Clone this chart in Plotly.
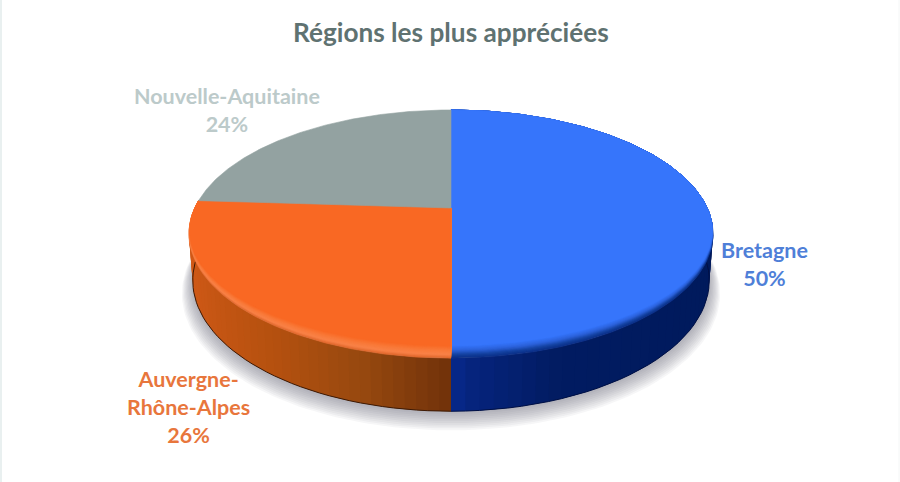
import numpy as np
import plotly.graph_objects as go

# ---- data ----
title_text = "Régions les plus appréciées"
regions = ["Bretagne", "Auvergne-<br>Rhône-Alpes", "Nouvelle-Aquitaine"]
shares = [50, 26, 24]

# ---- styles ----
top_colors = ["#3675fb", "#f96823", "#93a2a1"]
label_colors = ["#4f7fd8", "#e8763c", "#bccaca"]
label_xy = [(764, 264), (188, 407), (227, 110)]
label_size = 21.5

CX = 451
K = 0.21
TOP = dict(y0=208, A=256.2, B=118.6)
LOW = dict(y0=253, A=252.5, B=125.0)


def project(u, v, p):
    d = 1 - K * v
    return CX + p["A"] * u / d, p["y0"] + p["B"] * v / d


def rgb(h):
    return np.array([int(h[i:i + 2], 16) for i in (1, 3, 5)], float)


def ramp(stops, t):
    ts = [s[0] for s in stops]
    c = [np.interp(t, ts, [rgb(s[1])[i] for s in stops]) for i in range(3)]
    return "rgb(%d,%d,%d)" % tuple(c)


fig = go.Figure()


def poly(x, y, color, line=0.5):
    fig.add_trace(go.Scatter(x=x, y=y, mode="lines", fill="toself", fillcolor=color,
                             line=dict(color=color, width=line), hoverinfo="skip",
                             showlegend=False))


# slice angles, clockwise from twelve o'clock, from the values
edges = np.concatenate([[0], np.cumsum(shares)]) / sum(shares) * 2 * np.pi

# soft shadow
th = np.linspace(0, 2 * np.pi, 240)
for i in range(11):
    sx, sy = project(np.sin(th) * (1 + i * 0.004), -np.cos(th) * (1 + i * 0.004), LOW)
    poly(sx, sy + 1 + i, "rgba(95,100,115,0.055)", 0)

wall_ramps = {
    0: [(0, "#0a2d96"), (0.12, "#06247c"), (0.38, "#021c62"), (1, "#001a5c")],
    1: [(-1, "#d25a18"), (-0.6, "#b5510f"), (-0.3, "#96480f"), (0, "#6c2f0a")],
}
rim_ramps = {
    0: [(0, "#0c2f88"), (0.25, "#14419f"), (0.6, "#2c62da"), (1, "#3675fb")],
    1: [(0, "#e0682c"), (0.25, "#f98248"), (0.6, "#f97a3a"), (1, "#f96823")],
}

# side wall: each strip overlaps the next so no seams show
for idx in (0, 1):
    steps = 70 if idx == 0 else 45
    t = np.linspace(edges[idx], edges[idx + 1], steps + 1)
    order = range(steps - 1, -1, -1) if idx == 0 else range(steps)
    for n in order:
        a, b = t[n], t[n + 1]
        if -np.cos((a + b) / 2) < -0.12:
            continue
        # extend the strip under its neighbour painted afterwards
        if idx == 0:
            seg = np.linspace(a, min(b + (b - a), edges[idx + 1]), 3)
        else:
            seg = np.linspace(max(a - (b - a), edges[idx]), b, 3)
        u, v = np.sin(seg), -np.cos(seg)
        x1, y1 = project(u, v, TOP)
        x2, y2 = project(u, v, LOW)
        poly(np.r_[x1, x2[::-1]], np.r_[y1, y2[::-1]],
             ramp(wall_ramps[idx], float(np.sin((a + b) / 2))), 0)
    seg = t[-np.cos(t) > -0.12]
    lx, ly = project(np.sin(seg), -np.cos(seg), LOW)
    fig.add_trace(go.Scatter(x=lx, y=ly, mode="lines", hoverinfo="skip", showlegend=False,
                             line=dict(color=["#001045", "#3d1a05"][idx], width=1)))

# top face with bevel bands on the near side
bands = 12
for idx in range(3):
    t = np.linspace(edges[idx], edges[idx + 1], 160)
    u, v = np.sin(t), -np.cos(t)
    if idx == 2:
        levels = [(1.0, top_colors[2])]
    else:
        levels = [(1 - j * 0.006, ramp(rim_ramps[idx], j / (bands - 1))) for j in range(bands)]
    for s, color in levels:
        vs = np.where(v > 0, v * s, v)
        x, y = project(u, vs, TOP)
        ax, ay = project(0.0, 0.0, TOP)
        poly(np.r_[ax, x, ax], np.r_[ay, y, ay], color, 0.6)

annotations = [dict(x=451, y=32, text=f"<b>{title_text}</b>", showarrow=False,
                    font=dict(family="Lato", size=26.2, color="#5f7271"))]
for name, val, col, (lx, ly) in zip(regions, shares, label_colors, label_xy):
    annotations.append(dict(x=lx, y=ly, text=f"<b>{name}<br>{val}%</b>", showarrow=False,
                            align="center", font=dict(family="Lato", size=label_size, color=col)))

fig.update_layout(
    width=900, height=482, autosize=False,
    margin=dict(l=0, r=0, t=0, b=0),
    paper_bgcolor="#ffffff", plot_bgcolor="#ffffff",
    showlegend=False,
    xaxis=dict(visible=False, range=[0, 900], fixedrange=True),
    yaxis=dict(visible=False, range=[482, 0], fixedrange=True),
    annotations=annotations,
    shapes=[dict(type="line", x0=1, x1=1, y0=0, y1=482, line=dict(color="#e9f0f0", width=2)),
            dict(type="line", x0=899, x1=899, y0=0, y1=482, line=dict(color="#f4f6f6", width=1))],
)
fig.write_html("out.html", config={"displayModeBar": False},
               post_script="document.body.style.margin='0';document.documentElement.style.overflow='hidden';")
